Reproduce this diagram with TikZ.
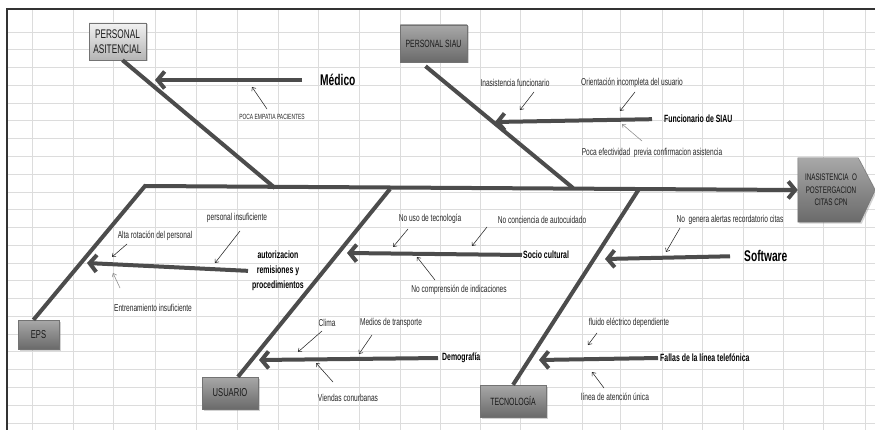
\documentclass[tikz,border=0pt]{standalone}
\usepackage{fontspec}
\setmainfont{Liberation Sans}[FakeStretch=0.66]
\usetikzlibrary{arrows.meta,shadows}

\definecolor{bonegray}{HTML}{4C4C4C}
\definecolor{gridgray}{HTML}{DCDCDC}
\definecolor{notegray}{HTML}{262626}
\definecolor{lighttop}{HTML}{F2F2F2}
\definecolor{lightbot}{HTML}{B4B4B4}
\definecolor{darktop}{HTML}{A8A8A8}
\definecolor{darkbot}{HTML}{6A6A6A}

\tikzset{
  bone/.style={draw=bonegray, line width=4pt},
  causearrow/.style={bone, -{Straight Barb[length=7pt,width=17pt]}},
  subarrow/.style={draw=black!85, line width=0.55pt, -{Straight Barb[length=3pt,width=5pt]}},
  subcause/.style={font=\fontsize{10}{12}\selectfont, text=notegray, inner sep=0.5pt},
  causelabel/.style={font=\bfseries\fontsize{10.5}{15}\selectfont, inner sep=1pt, anchor=west},
  bigcause/.style={font=\bfseries\fontsize{15.5}{18}\selectfont, inner sep=1pt, anchor=west},
  catbox/.style={draw=black!55, top color=darktop, bottom color=darkbot, text=black!90,
    drop shadow={shadow xshift=1.5pt, shadow yshift=-1.5pt, opacity=0.35},
    font=\fontsize{10.5}{13}\selectfont, align=center, inner sep=0pt},
  catboxlight/.style={catbox, top color=lighttop, bottom color=lightbot}
}

\begin{document}
\begin{tikzpicture}[x=1pt, y=-1pt]
  \fill[white] (0,0) rectangle (875,430);
  \useasboundingbox (0,0) rectangle (875,430);

  % hoja de calculo
  \foreach \gx in {32,73,113,155,196,237,278,318,359,400,440,480,520,582,620,662,702,743,783,823,865}
    \draw[gridgray, line width=0.8pt] (\gx,9) -- (\gx,430);
  \foreach \k in {0,...,22}
    \draw[gridgray, line width=0.8pt] (7,{32+17.77*\k}) -- (875,{32+17.77*\k});
  \draw[black!80, line width=1.2pt] (7,430) -- (7,9) -- (875,9);

  % categorias
  \node[catboxlight, minimum width=57pt, minimum height=37pt, font=\fontsize{12.5}{15}\selectfont] (asist) at (117.5,41.5) {PERSONAL\\ASITENCIAL};
  \node[catbox, minimum width=67pt, minimum height=37pt] (siau) at (433.5,43.5) {PERSONAL SIAU};
  \node[catbox, minimum width=41pt, minimum height=29pt, font=\fontsize{11.5}{13}\selectfont] (eps) at (38.5,334.5) {EPS};
  \node[catbox, minimum width=56pt, minimum height=32pt, font=\fontsize{11.5}{13}\selectfont] (usuario) at (230,393) {USUARIO};
  \node[catbox, minimum width=66pt, minimum height=32pt] (tecno) at (513,401) {TECNOLOGÍA};

  % efecto
  \node[minimum width=77pt, minimum height=64pt, inner sep=0pt] (effect) at (836.5,190) {};
  \path[top color=darktop, bottom color=darkbot, draw=black!55,
    drop shadow={shadow xshift=1.5pt, shadow yshift=-1.5pt, opacity=0.35}]
    (effect.north west) -- ([xshift=-17pt]effect.north east) -- (effect.east)
    -- ([xshift=-15pt]effect.south east) -- (effect.south west) -- cycle;
  \node[align=center, font=\fontsize{9.5}{12.5}\selectfont, text=black!90] (effect-label) at (831,190) {INASISTENCIA\ \ O\\POSTERGACION\\CITAS CPN};

  % espinas
  \coordinate (sp-start) at (145,186);
  \coordinate (j-asist) at (275,188);
  \coordinate (j-siau) at (573,188);
  \coordinate (j-usu) at (390,189);
  \coordinate (j-tec) at (639,189);
  \draw[bone, -{Straight Barb[length=7pt,width=17pt]}] ([xshift=-5pt]eps.north) -- (sp-start) -- (effect.west);
  \draw[bone] ([xshift=5pt]asist.south) -- (j-asist);
  \draw[bone] ([xshift=-8pt,yshift=-4pt]siau.south) -- (j-siau);
  \draw[bone] ([xshift=8pt]usuario.north) -- (j-usu);
  \draw[bone] (tecno.north) -- (j-tec);

  % causas
  \node[bigcause] (medico) at (319,80) {Médico};
  \coordinate (medico-tip) at (155,80);
  \draw[causearrow, shorten <=17pt] (medico.west) -- (medico-tip);

  \node[causelabel] (func) at (663,119) {Funcionario de SIAU};
  \coordinate (func-tip) at (495,122);
  \draw[causearrow, shorten <=11pt] (func.west) -- (func-tip);

  \node[causelabel, align=center] (autoriz) at (251,271) {autorizacion\\remisiones y\\procedimientos};
  \coordinate (autoriz-tip) at (87,263);
  \draw[causearrow, shorten <=3pt] (autoriz.west) -- (autoriz-tip);

  \node[causelabel] (socio) at (522,255) {Socio cultural};
  \coordinate (socio-tip) at (347,253);
  \draw[causearrow] (socio.west) -- (socio-tip);

  \node[bigcause] (software) at (743,256) {Software};
  \coordinate (software-tip) at (605,259);
  \draw[causearrow, shorten <=13pt] (software.west) -- (software-tip);

  \node[causelabel] (demog) at (441,358) {Demografía};
  \coordinate (demog-tip) at (259,360);
  \draw[causearrow, shorten <=3pt] (demog.west) -- (demog-tip);

  \node[causelabel] (fallas) at (659,358) {Fallas de la línea telefónica};
  \coordinate (fallas-tip) at (539,360);
  \draw[causearrow, shorten <=1pt] (fallas.west) -- (fallas-tip);

  % subcausas
  \node[subcause, font=\fontsize{7.5}{9}\selectfont] (empatia) at (272,117) {POCA EMPATIA PACIENTES};
  \coordinate (empatia-a) at (267,109); \coordinate (empatia-b) at (252,87);
  \draw[subarrow] (empatia-a) -- (empatia-b);

  \node[subcause] (inasis) at (515,83) {Inasistencia funcionario};
  \coordinate (inasis-a) at (534,92); \coordinate (inasis-b) at (520,110);
  \draw[subarrow] (inasis-a) -- (inasis-b);

  \node[subcause] (orient) at (632,83) {Orientación incompleta del usuario};
  \coordinate (orient-a) at (635,92); \coordinate (orient-b) at (620,111);
  \draw[subarrow] (orient-a) -- (orient-b);

  \node[subcause] (efect) at (652,153) {Poca efectividad\ \ previa confirmacion asistencia};
  \coordinate (efect-a) at (642,141); \coordinate (efect-b) at (622,124);
  \draw[subarrow, draw=black!45] (efect-a) -- (efect-b);

  \node[subcause] (persins) at (237,218) {personal insuficiente};
  \coordinate (persins-a) at (240,231); \coordinate (persins-b) at (215,263);
  \draw[subarrow] (persins-a) -- (persins-b);

  \node[subcause] (rotac) at (155,236) {Alta rotación del personal};
  \coordinate (rotac-a) at (127,244); \coordinate (rotac-b) at (112,257);
  \draw[subarrow] (rotac-a) -- (rotac-b);

  \node[subcause] (entren) at (153,308) {Entrenamiento insuficiente};
  \coordinate (entren-a) at (120,288); \coordinate (entren-b) at (113,273);
  \draw[subarrow, draw=black!45] (entren-a) -- (entren-b);

  \node[subcause] (nouso) at (430,219) {No uso de tecnología};
  \coordinate (nouso-a) at (408,229); \coordinate (nouso-b) at (393,247);
  \draw[subarrow] (nouso-a) -- (nouso-b);

  \node[subcause] (concien) at (542,220) {No conciencia de autocuidado};
  \coordinate (concien-a) at (487,227); \coordinate (concien-b) at (472,246);
  \draw[subarrow] (concien-a) -- (concien-b);

  \node[subcause] (compren) at (459,290) {No comprensión de indicaciones};
  \coordinate (compren-a) at (435,280); \coordinate (compren-b) at (417,257);
  \draw[subarrow] (compren-a) -- (compren-b);

  \node[subcause] (alertas) at (730,220) {No\ \ genera alertas recordatorio citas};
  \coordinate (alertas-a) at (680,228); \coordinate (alertas-b) at (666,252);
  \draw[subarrow] (alertas-a) -- (alertas-b);

  \node[subcause] (clima) at (327,323) {Clima};
  \coordinate (clima-a) at (322,331); \coordinate (clima-b) at (298,352);
  \draw[subarrow] (clima-a) -- (clima-b);

  \node[subcause] (medios) at (391,323) {Medios de transporte};
  \coordinate (medios-a) at (372,335); \coordinate (medios-b) at (359,354);
  \draw[subarrow] (medios-a) -- (medios-b);

  \node[subcause] (viendas) at (348,398) {Viendas conurbanas};
  \coordinate (viendas-a) at (333,382); \coordinate (viendas-b) at (316,363);
  \draw[subarrow] (viendas-a) -- (viendas-b);

  \node[subcause] (fluido) at (629,323) {fluido eléctrico dependiente};
  \coordinate (fluido-a) at (597,333); \coordinate (fluido-b) at (588,345);
  \draw[subarrow] (fluido-a) -- (fluido-b);

  \node[subcause] (linea) at (615,397) {línea de atención única};
  \coordinate (linea-a) at (604,388); \coordinate (linea-b) at (592,372);
  \draw[subarrow] (linea-a) -- (linea-b);
\end{tikzpicture}
\end{document}
